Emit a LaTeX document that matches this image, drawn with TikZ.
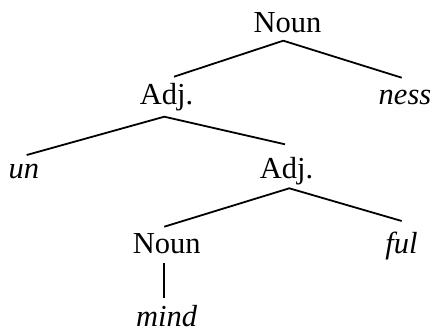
\documentclass[tikz,border=0pt]{standalone}
\usepackage{fontspec}
\setmainfont{Liberation Serif}
\usetikzlibrary{calc}
\begin{document}
\begin{tikzpicture}[x=1pt,y=-1pt,
  lbl/.style={anchor=base,inner sep=0pt,font=\fontsize{30.5}{36}\selectfont},
  it/.style={lbl,font=\fontsize{30.5}{36}\selectfont\itshape},
  br/.style={line width=1.8pt,black}]
\useasboundingbox (0,0) rectangle (435,331);
\node[lbl] (n1) at (287.5,32.3) {Noun};
\node[lbl] (a1) at (166.5,105) {Adj.};
\node[it] (ness) at (405,105) {ness};
\node[it] (un) at (24,178) {un};
\node[lbl] (a2) at (286.5,178) {Adj.};
\node[lbl] (n2) at (166.7,253.3) {Noun};
\node[it] (ful) at (401.5,253) {ful};
\node[it] (mind) at (166.7,326.7) {mind};
\draw[br] ($(a1.base)+(7.5,-28.3)$) -- ($(n1.base)+(-4.2,8.4)$) -- ($(ness.base)+(-3.3,-27.3)$);
\draw[br] ($(un.base)+(2.7,-23)$) -- ($(a1.base)+(-2.2,11.7)$) -- ($(a2.base)+(-1.5,-33.7)$);
\draw[br] ($(n2.base)+(-2.4,-26.6)$) -- ($(a2.base)+(2.8,10.3)$) -- ($(ful.base)+(0.2,-32)$);
\draw[br] ($(n2.base)+(-2.4,10)$) -- ($(mind.base)+(-2.4,-28.4)$);
\end{tikzpicture}
\end{document}
